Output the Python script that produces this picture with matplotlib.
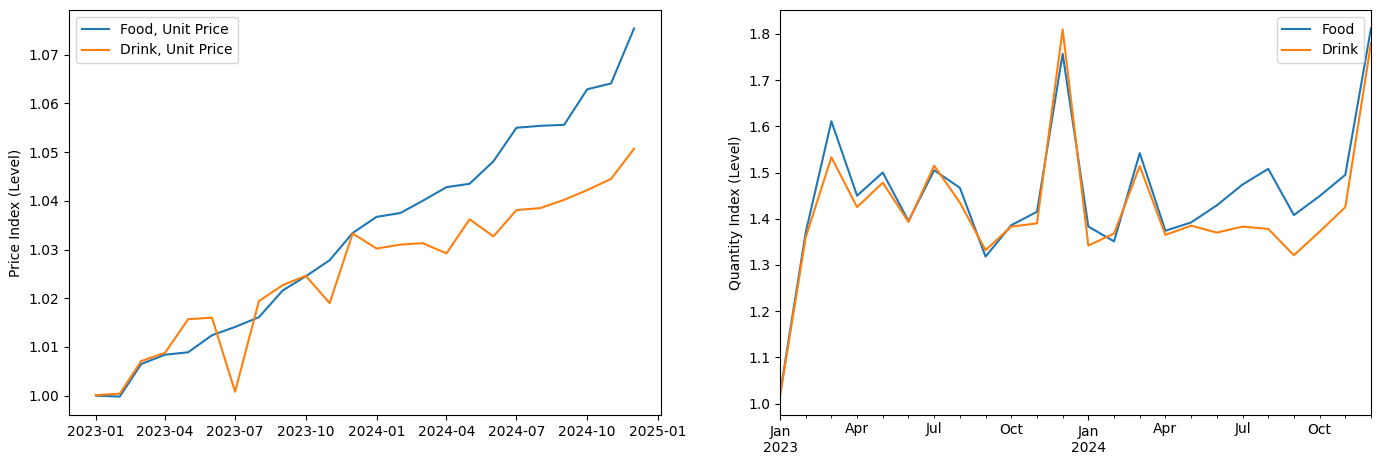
import numpy as np
import pandas as pd
import matplotlib
matplotlib.use("Agg")
import matplotlib.pyplot as plt

months = pd.date_range("2023-01-01", periods=24, freq="MS")

food_price = [1.0000, 0.9998, 1.0065, 1.0084, 1.0089, 1.0124, 1.0141, 1.0161,
              1.0216, 1.0245, 1.0278, 1.0334, 1.0367, 1.0375, 1.0400, 1.0428,
              1.0435, 1.0481, 1.0550, 1.0554, 1.0556, 1.0629, 1.0641, 1.0754]
drink_price = [1.0001, 1.0004, 1.0071, 1.0088, 1.0157, 1.0160, 1.0008, 1.0194,
               1.0227, 1.0246, 1.0190, 1.0333, 1.0302, 1.0310, 1.0313, 1.0292,
               1.0362, 1.0327, 1.0381, 1.0385, 1.0402, 1.0422, 1.0445, 1.0507]

food_qty = [1.020, 1.370, 1.611, 1.450, 1.500, 1.395, 1.505, 1.467,
            1.318, 1.386, 1.415, 1.757, 1.383, 1.351, 1.542, 1.374,
            1.392, 1.429, 1.474, 1.508, 1.408, 1.449, 1.495, 1.812]
drink_qty = [1.015, 1.360, 1.533, 1.425, 1.478, 1.393, 1.515, 1.435,
             1.332, 1.383, 1.390, 1.810, 1.342, 1.368, 1.514, 1.365,
             1.385, 1.370, 1.383, 1.378, 1.321, 1.372, 1.425, 1.780]

fig, (ax1, ax2) = plt.subplots(1, 2, figsize=(13.8, 4.67), dpi=100)

ax1.plot(months, food_price, label="Food, Unit Price")
ax1.plot(months, drink_price, label="Drink, Unit Price")
ax1.set_ylabel("Price Index (Level)")
ax1.legend(loc="upper left")

qty = pd.DataFrame({"Food": food_qty, "Drink": drink_qty},
                   index=pd.period_range("2023-01", periods=24, freq="M"))
qty.plot(ax=ax2)
ax2.set_ylabel("Quantity Index (Level)")
ax2.legend(loc="upper right")

ax1.set_position([69 / 1380, 52 / 467, 592 / 1380, 405 / 467])
ax2.set_position([780 / 1380, 52 / 467, 591 / 1380, 405 / 467])

fig.savefig("out.png")
